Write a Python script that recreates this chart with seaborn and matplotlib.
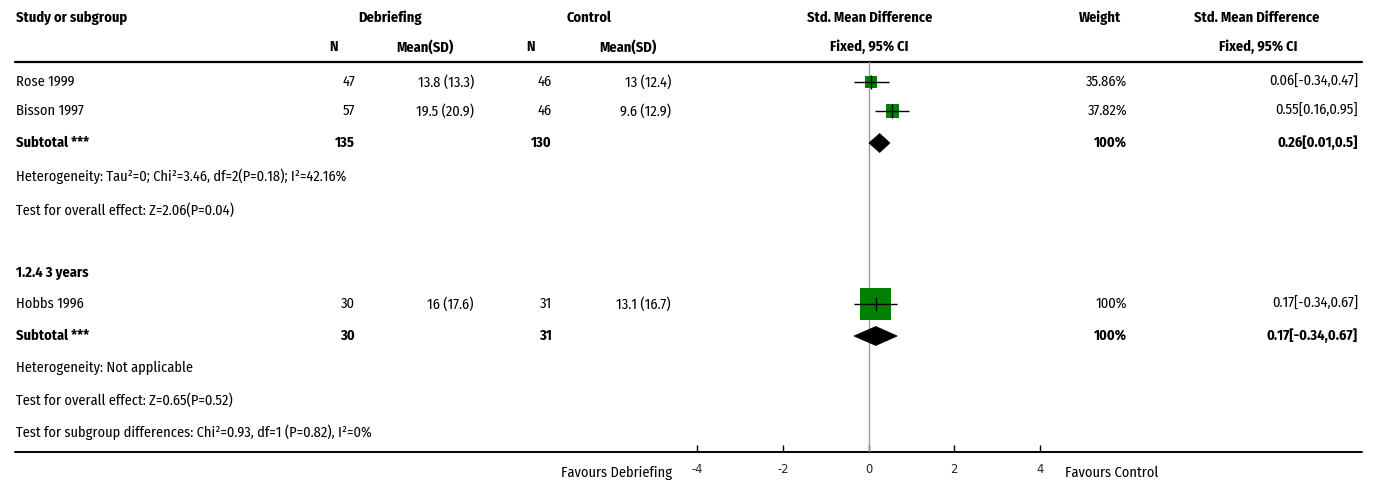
import matplotlib
matplotlib.use("Agg")
import matplotlib.pyplot as plt
from matplotlib.patches import Polygon
import seaborn as sns
import pandas as pd

# ---------------- data ----------------
studies = ["Rose 1999", "Bisson 1997", "Hobbs 1996"]
n_deb = [47, 57, 30]
mean_sd_deb = ["13.8 (13.3)", "19.5 (20.9)", "16 (17.6)"]
n_ctl = [46, 46, 31]
mean_sd_ctl = ["13 (12.4)", "9.6 (12.9)", "13.1 (16.7)"]
smd = [0.06, 0.55, 0.17]
ci_lo = [-0.34, 0.16, -0.34]
ci_hi = [0.47, 0.95, 0.67]
weights = [35.86, 37.82, 100.0]
weight_labels = ["35.86%", "37.82%", "100%"]
smd_labels = ["0.06[-0.34,0.47]", "0.55[0.16,0.95]", "0.17[-0.34,0.67]"]

sub_n_deb = [135, 30]
sub_n_ctl = [130, 31]
sub_smd = [0.26, 0.17]
sub_lo = [0.01, -0.34]
sub_hi = [0.5, 0.67]
sub_weight_labels = ["100%", "100%"]
sub_smd_labels = ["0.26[0.01,0.5]", "0.17[-0.34,0.67]"]

het_texts = ["Heterogeneity: Tau²=0; Chi²=3.46, df=2(P=0.18); I²=42.16%",
             "Heterogeneity: Not applicable"]
effect_texts = ["Test for overall effect: Z=2.06(P=0.04)",
                "Test for overall effect: Z=0.65(P=0.52)"]
subgroup_title = "1.2.4 3 years"
subgroup_diff = "Test for subgroup differences: Chi²=0.93, df=1 (P=0.82), I²=0%"
xticks = [-4, -2, 0, 2, 4]

# ---------------- layout (pixels) ----------------
W, H = 1375, 484
study_y = [82, 111, 304]
sub_y = [143, 336]
het_y = [176, 368]
eff_y = [210, 400]
title_y = 273
subdiff_y = 432
hdr1_y, hdr2_y, hline_y, axis_y = 18, 47, 62, 452
x0, x1 = 697, 1040   # pixel of -4 and 4

sns.set_theme(style="white")
plt.rcParams["font.family"] = ["Fira Sans Condensed", "DejaVu Sans"]
FS = 10.4
GREEN = "#008000"

fig = plt.figure(figsize=(W / 100, H / 100), dpi=100)
ax = fig.add_axes([0, 0, 1, 1])
ax.set_xlim(0, W)
ax.set_ylim(H, 0)
ax.axis("off")

def t(x, y, s, ha="left", bold=False, size=FS):
    ax.text(x, y, s, ha=ha, va="center", fontsize=size,
            fontweight="bold" if bold else "normal", color="black")

# headers
t(16, hdr1_y, "Study or subgroup", bold=True)
t(390, hdr1_y, "Debriefing", ha="center", bold=True)
t(589, hdr1_y, "Control", ha="center", bold=True)
t(870, hdr1_y, "Std. Mean Difference", ha="center", bold=True)
t(1100, hdr1_y, "Weight", ha="center", bold=True)
t(1257, hdr1_y, "Std. Mean Difference", ha="center", bold=True)
t(334, hdr2_y, "N", ha="center", bold=True)
t(425, hdr2_y, "Mean(SD)", ha="center", bold=True)
t(531, hdr2_y, "N", ha="center", bold=True)
t(628, hdr2_y, "Mean(SD)", ha="center", bold=True)
t(869, hdr2_y, "Fixed, 95% CI", ha="center", bold=True)
t(1258, hdr2_y, "Fixed, 95% CI", ha="center", bold=True)
ax.plot([15, 1362], [hline_y, hline_y], color="black", lw=1.6)
ax.plot([15, 1362], [axis_y, axis_y], color="black", lw=1.4)

# study rows
for i, y in enumerate(study_y):
    t(16, y, studies[i])
    t(355, y, str(n_deb[i]), ha="right")
    t(474, y, mean_sd_deb[i], ha="right")
    t(552, y, str(n_ctl[i]), ha="right")
    t(671, y, mean_sd_ctl[i], ha="right")
    t(1127, y, weight_labels[i], ha="right")
    t(1358, y, smd_labels[i], ha="right")

for j, y in enumerate(sub_y):
    t(16, y, "Subtotal ***", bold=True)
    t(355, y, str(sub_n_deb[j]), ha="right", bold=True)
    t(552, y, str(sub_n_ctl[j]), ha="right", bold=True)
    t(1127, y, sub_weight_labels[j], ha="right", bold=True)
    t(1358, y, sub_smd_labels[j], ha="right", bold=True)
    t(16, het_y[j], het_texts[j])
    t(16, eff_y[j], effect_texts[j])

t(16, title_y, subgroup_title, bold=True)
t(16, subdiff_y, subgroup_diff)
t(672, 473, "Favours Debriefing", ha="right")
t(1065, 473, "Favours Control", ha="left")

# ---------------- forest axes ----------------
axf = fig.add_axes([x0 / W, (H - axis_y) / H, (x1 - x0) / W, (axis_y - hline_y) / H])
axf.set_xlim(-4, 4)
axf.set_ylim(axis_y, hline_y)
axf.patch.set_alpha(0)
for sp in axf.spines.values():
    sp.set_visible(False)
axf.set_yticks([])
axf.set_xticks(xticks)
axf.set_xticklabels([str(v) for v in xticks], family=["DejaVu Sans"])
axf.tick_params(axis="x", direction="in", length=5, width=1, color="black",
                labelsize=8.3, pad=8, bottom=True)
axf.axvline(0, color="#9a9a9a", lw=1, zorder=1)

df = pd.DataFrame({"smd": smd, "y": study_y, "w": weights})
sns.scatterplot(data=df, x="smd", y="y", size="w",
                sizes={35.86: 75, 37.82: 88, 100.0: 500},
                marker="s", color=GREEN, linewidth=0, legend=False,
                ax=axf, zorder=3)
axf.hlines(study_y, ci_lo, ci_hi, color="black", lw=1.0, zorder=4)
sns.scatterplot(data=df, x="smd", y="y", marker="|", s=110, color="black",
                linewidth=1.0, legend=False, ax=axf, zorder=5)

# diamonds
for j, y in enumerate(sub_y):
    hh = 9.5
    poly = Polygon([[sub_lo[j], y], [sub_smd[j], y - hh],
                    [sub_hi[j], y], [sub_smd[j], y + hh]],
                   closed=True, facecolor="black", edgecolor="black", lw=0.5, zorder=3)
    axf.add_patch(poly)

axf.set_xlabel("")
axf.set_ylabel("")

fig.savefig("out.png", dpi=100)
